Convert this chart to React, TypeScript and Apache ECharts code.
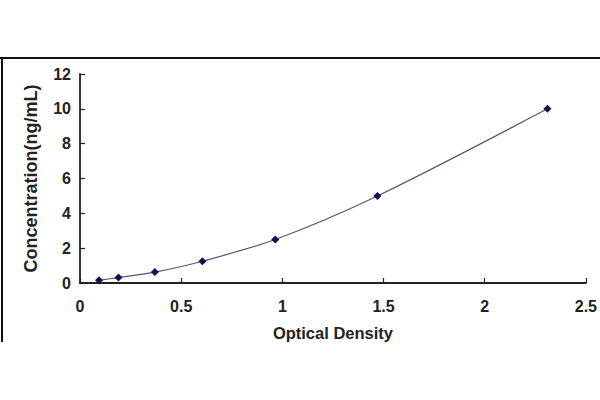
import React, { useEffect, useRef } from "react";
import * as echarts from "echarts";

const opticalDensity = [0.094, 0.19, 0.37, 0.605, 0.965, 1.47, 2.31];
const concentration = [0.156, 0.312, 0.625, 1.25, 2.5, 5, 10];
const xTicks = [0, 0.5, 1, 1.5, 2, 2.5];
const yTicks = [0, 2, 4, 6, 8, 10, 12];

export default function App() {
  const ref = useRef<HTMLDivElement>(null);
  useEffect(() => {
    if (!ref.current) return;
    const chart = echarts.init(ref.current, undefined, { renderer: "svg" });
    const font = "Liberation Sans";
    chart.setOption({
      animation: false,
      backgroundColor: "#ffffff",
      grid: { left: 80, right: 14, top: 74, bottom: 117 },
      xAxis: {
        type: "value",
        min: xTicks[0],
        max: xTicks[xTicks.length - 1],
        interval: 0.5,
        name: "Optical Density",
        nameLocation: "middle",
        nameGap: 41,
        nameTextStyle: { fontFamily: font, fontWeight: "bold", fontSize: 16.5, color: "#222" },
        axisLine: { lineStyle: { color: "#222", width: 1.8 } },
        axisTick: { inside: true, length: 5, lineStyle: { color: "#222", width: 1.2 } },
        axisLabel: {
          fontFamily: font, fontWeight: "bold", fontSize: 16, color: "#222", margin: 15,
          formatter: (v: number) => String(v),
        },
        splitLine: { show: false },
      },
      yAxis: {
        type: "value",
        min: yTicks[0],
        max: yTicks[yTicks.length - 1],
        interval: 2,
        name: "Concentration(ng/mL)",
        nameLocation: "middle",
        nameGap: 40,
        nameTextStyle: { fontFamily: font, fontWeight: "bold", fontSize: 18, color: "#222" },
        axisLine: { show: true, lineStyle: { color: "#222", width: 1.8 } },
        axisTick: { show: true, inside: true, length: 5, lineStyle: { color: "#222", width: 1.2 } },
        axisLabel: { fontFamily: font, fontWeight: "bold", fontSize: 16, color: "#222", margin: 9 },
        splitLine: { show: false },
      },
      series: [
        {
          type: "line",
          data: opticalDensity.map((x, i) => [x, concentration[i]]),
          smooth: 0.3,
          symbol: "diamond",
          symbolSize: 8,
          itemStyle: { color: "#101050" },
          lineStyle: { color: "#55557a", width: 1.2 },
        },
      ],
      graphic: [
        { type: "line", shape: { x1: 0, y1: 58, x2: 600, y2: 58 }, style: { stroke: "#111", lineWidth: 2 } },
        { type: "line", shape: { x1: 2, y1: 58, x2: 2, y2: 342 }, style: { stroke: "#111", lineWidth: 2 } },
      ],
    });
    return () => chart.dispose();
  }, []);
  return <div ref={ref} style={{ position: "fixed", left: 0, top: 0, width: 600, height: 400 }} />;
}
